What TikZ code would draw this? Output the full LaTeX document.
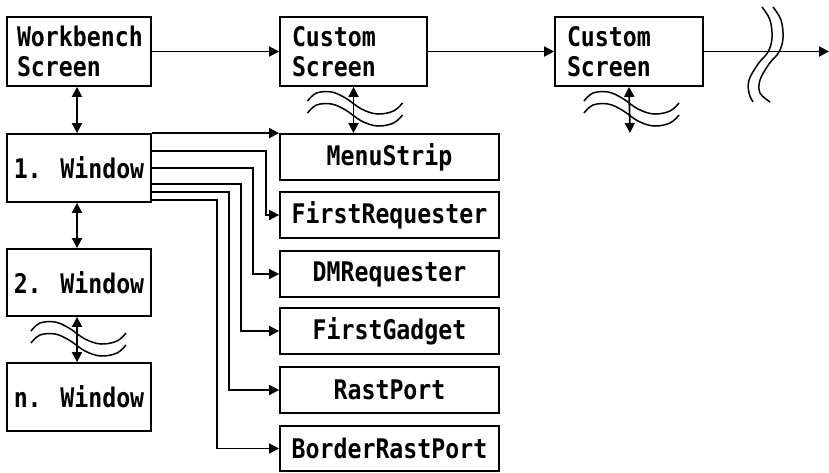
\documentclass[tikz,border=0pt]{standalone}
\usepackage{fontspec}
\newfontfamily\topaz{DejaVu Sans Mono}[FakeStretch=0.86]
\usetikzlibrary{arrows.meta,calc}
\begin{document}
\begin{tikzpicture}[x=1pt,y=-1pt, line width=1.8pt,
  box/.style={draw, rectangle, inner sep=0pt, font=\topaz\bfseries\fontsize{27pt}{30pt}\selectfont},
  scr/.style={box, minimum height=69pt, align=left},
  win/.style={box, minimum width=144pt, minimum height=68pt},
  sub/.style={box, minimum width=219pt, minimum height=46pt},
  arr/.style={-{Triangle[length=10pt,width=10pt]}},
  darr/.style={{Triangle[length=10pt,width=10pt]}-{Triangle[length=10pt,width=10pt]}},
  brk/.style={line width=1.5pt},
  hbreak/.pic={
    \draw[brk] plot[smooth, tension=0.6] coordinates {(-46,15) (-37,7) (-22,6) (-8,12) (8,23) (24,28) (40,25) (49,17)};
    \draw[brk] plot[smooth, tension=0.6] coordinates {(-46,27) (-37,19) (-22,18) (-8,24) (8,35) (24,40) (40,37) (49,29)};
  }]
\useasboundingbox (0,0) rectangle (829,472);

% screens
\node[scr, minimum width=144pt, text width=124pt] (wb) at (79,51.5) {Workbench\\Screen};
\node[scr, minimum width=147pt, text width=123pt] (cs1) at (353.5,51.5) {Custom\\Screen};
\node[scr, minimum width=148pt, text width=124pt] (cs2) at (629,51.5) {Custom\\Screen};

% windows
\node[win] (w1) at (79,168) {1. Window};
\node[win, minimum height=67pt] (w2) at (79,282.5) {2. Window};
\node[win] (wn) at (79,397) {n. Window};

% window sub-structures
\node[sub] (ms) at (389.5,157) {MenuStrip};
\node[sub] (fr) at (389.5,215) {FirstRequester};
\node[sub] (dm) at (389.5,274) {DMRequester};
\node[sub] (fg) at (389.5,331) {FirstGadget};
\node[sub] (rp) at (389.5,390) {RastPort};
\node[sub, minimum height=45pt] (brp) at (389.5,448.5) {BorderRastPort};

% screen chain
\coordinate (out) at (829,53);
\coordinate (cs2end) at (630,133);
\draw[arr] (wb.east) -- (cs1.west);
\draw[arr] (cs1.east) -- (cs2.west);
\draw[arr] (cs2.east) -- (cs2.east -| out);

% break marks
\pic at (353.5,86) {hbreak};
\pic at (630,86) {hbreak};
\pic at (77,316) {hbreak};
\draw[brk] plot[smooth, tension=0.6] coordinates {(762,7) (770,20) (772,38) (768,52) (758,64) (749,80) (749,93) (753,102)};
\draw[brk] plot[smooth, tension=0.6] coordinates {(773,7) (781,20) (783,38) (779,52) (769,64) (760,80) (760,93) (770,102)};

% vertical links
\draw[darr] ($(wb.south)+(-2,0)$) -- ($(w1.north)+(-2,0)$);
\draw[darr] ($(w1.south)+(-2,0)$) -- ($(w2.north)+(-2,0)$);
\draw[darr] ($(w2.south)+(-2,0)$) -- ($(wn.north)+(-2,0)$);
\draw[darr] (cs1.south) -- (cs1.south |- ms.north);
\draw[darr] (cs2.south) -- (cs2end);

% window connectors
\draw[arr] (w1.north east) -- (ms.north west);
\draw[arr] ([yshift=-18pt]w1.north east) -| ($(fr.west)+(-13,0)$) -- (fr.west);
\draw[arr] ([yshift=-35pt]w1.north east) -| ($(dm.west)+(-26,0)$) -- (dm.west);
\draw[arr] ([yshift=-51pt]w1.north east) -| ($(fg.west)+(-38,0)$) -- (fg.west);
\draw[arr] ([yshift=-59pt]w1.north east) -| ($(rp.west)+(-50,0)$) -- (rp.west);
\draw[arr] ([yshift=-67pt]w1.north east) -| ($(brp.west)+(-62,0)$) -- (brp.west);
\end{tikzpicture}
\end{document}
